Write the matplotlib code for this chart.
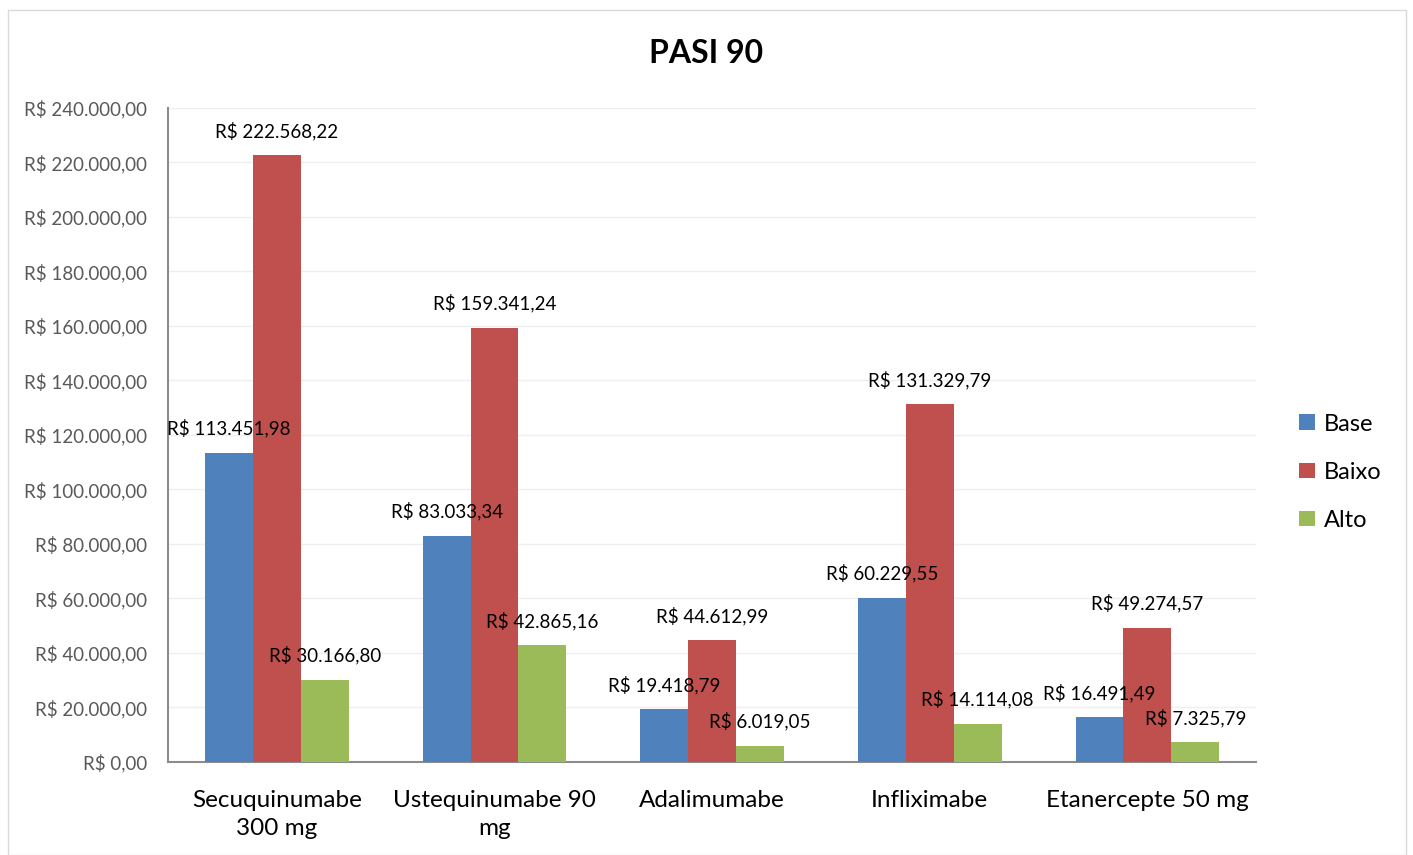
import numpy as np
import matplotlib.pyplot as plt
from matplotlib.patches import Rectangle

plt.rcParams['font.family'] = ['Lato', 'DejaVu Sans']

# data
categories = ['Secuquinumabe\n300 mg', 'Ustequinumabe 90\nmg', 'Adalimumabe',
              'Infliximabe', 'Etanercepte 50 mg']
series = ['Base', 'Baixo', 'Alto']
base = [113451.98, 83033.34, 19418.79, 60229.55, 16491.49]
baixo = [222568.22, 159341.24, 44612.99, 131329.79, 49274.57]
alto = [30166.80, 42865.16, 6019.05, 14114.08, 7325.79]
colors = ['#4F81BD', '#C0504D', '#9BBB59']

def brl(v):
    # Brazilian formatting: R$ 1.234,56
    s = '{:,.2f}'.format(v)
    s = s.replace(',', 'X').replace('.', ',').replace('X', '.')
    return 'R$ ' + s

fig = plt.figure(figsize=(14.13, 8.55), dpi=100)
ax = fig.add_axes([0.119, 0.1088, 0.770, 0.7649])

# light border around the whole chart
fig.patches.append(Rectangle((0.006, 0.0), 0.989, 0.988, transform=fig.transFigure,
                             fill=False, edgecolor='#D9D9D9', linewidth=1))

x = np.arange(len(categories))
w = 0.22
for i, (vals, name) in enumerate(zip([base, baixo, alto], series)):
    pos = x + (i - 1) * w
    ax.bar(pos, vals, width=w, color=colors[i], label=name, zorder=3)
    for p, v in zip(pos, vals):
        ax.text(p, v + 5500, brl(v), ha='center', va='bottom', fontsize=13.5,
                color='black', zorder=4)

ax.set_xlim(-0.5, len(categories) - 0.5)
ax.set_ylim(0, 240000)
ax.set_yticks(np.arange(0, 240001, 20000))
ax.set_yticklabels([brl(v) for v in np.arange(0, 240001, 20000)],
                   fontsize=13.5, color='#595959')
ax.set_xticks(x)
ax.set_xticklabels(categories, fontsize=17.5, color='black', linespacing=1.45)
ax.tick_params(axis='both', length=0)
ax.tick_params(axis='x', pad=20)
ax.tick_params(axis='y', pad=15)

ax.grid(axis='y', color='#EFEFEF', linewidth=1, zorder=0)
for s in ['top', 'right']:
    ax.spines[s].set_visible(False)
for s in ['left', 'bottom']:
    ax.spines[s].set_color('#8C8C8C')
    ax.spines[s].set_linewidth(1.5)

fig.text(0.5, 0.937, 'PASI 90', ha='center', va='center', fontsize=23,
         fontweight='bold')

ax.legend(loc='center left', bbox_to_anchor=(1.02, 0.443), frameon=False,
          fontsize=17, handlelength=0.65, handleheight=0.65, handletextpad=0.4,
          labelspacing=1.15)

fig.savefig('out.png', dpi=100)
